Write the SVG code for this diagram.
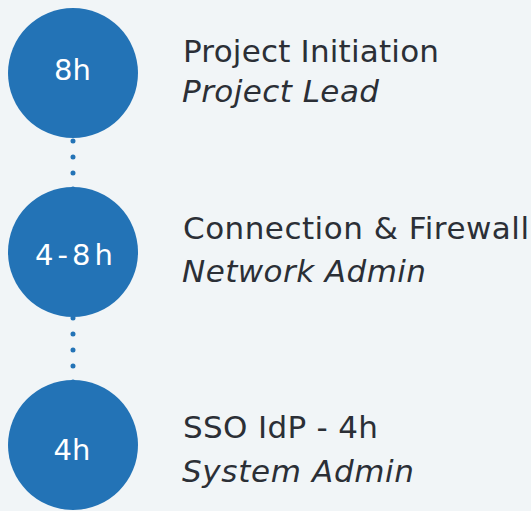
<svg xmlns="http://www.w3.org/2000/svg" width="531" height="511" viewBox="0 0 531 511">
<style>
.bg{fill:#f1f5f7}
.circ{fill:#2373b6}
.dot{stroke:#2373b6;stroke-width:5;stroke-linecap:round;stroke-dasharray:0 16;fill:none}
.num{font-family:"DejaVu Sans",sans-serif;font-size:29px;fill:#ffffff;text-anchor:middle}
.title{font-family:"DejaVu Sans",sans-serif;font-size:31px;fill:#2b2f36}
.role{font-family:"DejaVu Sans",sans-serif;font-size:31px;font-style:italic;fill:#2b2f36}
</style>
<rect class="bg" x="0" y="0" width="531" height="511"/>
<g id="connectors">
<line class="dot" x1="73" y1="141" x2="73" y2="190"/>
<line class="dot" x1="73" y1="318" x2="73" y2="383"/>
</g>
<g id="node1">
<circle class="circ" cx="73" cy="73" r="65"/>
<text class="num" x="72.5" y="80">8h</text>
<text class="title" x="183" y="61.7" textLength="256">Project Initiation</text>
<text class="role" x="182" y="101.7" textLength="197">Project Lead</text>
</g>
<g id="node2">
<circle class="circ" cx="73" cy="252" r="65"/>
<text class="num" x="74" y="264.5" textLength="78">4-8h</text>
<text class="title" x="183" y="239.3" textLength="346">Connection &amp; Firewall</text>
<text class="role" x="182" y="281.7" textLength="244">Network Admin</text>
</g>
<g id="node3">
<circle class="circ" cx="73" cy="445" r="65"/>
<text class="num" x="72" y="459.8">4h</text>
<text class="title" x="183" y="438.3" textLength="195">SSO IdP - 4h</text>
<text class="role" x="182" y="481.7" textLength="232">System Admin</text>
</g>
</svg>
